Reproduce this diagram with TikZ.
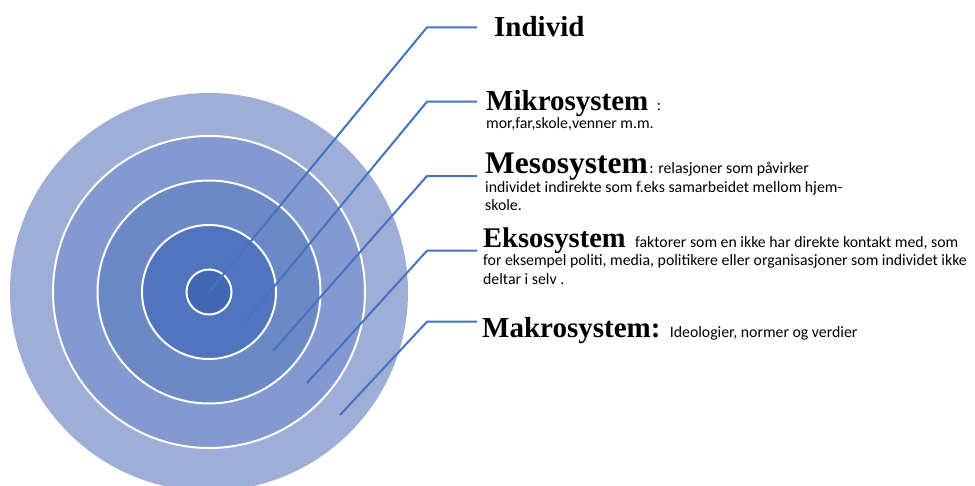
\documentclass[tikz,border=0pt]{standalone}
\usepackage{fontspec}
\setmainfont{Liberation Serif}
\newfontfamily\notefont{Carlito}

\definecolor{ringA}{HTML}{9FAED6}
\definecolor{ringB}{HTML}{8499CF}
\definecolor{ringC}{HTML}{6C89C6}
\definecolor{ringD}{HTML}{5075BE}
\definecolor{ringE}{HTML}{4068B0}
\definecolor{leaderblue}{HTML}{4472C4}

\begin{document}
\begin{tikzpicture}[x=1pt,y=-1pt,
  ring/.style={draw=white,line width=2pt},
  leader/.style={leaderblue,line width=2pt,line join=miter},
  sysname/.style={inner sep=0pt,anchor=base west,font=\bfseries\fontsize{#1}{#1}\selectfont},
  sysnote/.style={inner sep=0pt,anchor=base west,align=left,font=\notefont\fontsize{15.8}{18.5}\selectfont}]
\useasboundingbox (0,0) rectangle (975,485);
\clip (0,0) rectangle (975,485);
% the rings
\coordinate (core) at (209,292);
\fill[ringA] (core) circle (199);
\filldraw[ring,fill=ringB] (core) circle (156);
\filldraw[ring,fill=ringC] (core) circle (111.5);
\filldraw[ring,fill=ringD] (core) circle (67);
\filldraw[ring,fill=ringE] (core) circle (22.5);
% where the leaders start and bend
\coordinate (mikroStart) at (244,323);
\coordinate (mesoStart) at (273,351);
\coordinate (eksoStart) at (307,383);
\coordinate (makroStart) at (340,415);
\coordinate (individBend) at (427,27.3);
\coordinate (mikroBend) at (427,101.7);
\coordinate (mesoBend) at (427,176);
\coordinate (eksoBend) at (427,250.7);
\coordinate (makroBend) at (427,321.7);
\coordinate (individEnd) at (477,27.3);
\coordinate (mikroEnd) at (477,101.7);
\coordinate (mesoEnd) at (477,176);
\coordinate (eksoEnd) at (477,250.7);
\coordinate (makroEnd) at (477,321.7);
% labels (multi-line notes sit on their last line)
\node[sysname=29] (individ) at (494,36) {Individ};
\node[sysname=29] (mikro) at (486,110) {Mikrosystem};
\node[sysnote,xshift=8pt] (mikroColon) at (mikro.base east) {:};
\node[sysnote] (mikroNote) at (486,128.3) {mor,far,skole,venner m.m.};
\node[sysname=31.5] (meso) at (485,173) {Mesosystem};
\node[sysnote,xshift=1pt] (mesoNote) at (meso.base east) {: relasjoner som påvirker};
\node[sysnote] (mesoMore) at (485,210.5) {individet indirekte som f.eks samarbeidet mellom hjem-\\skole.};
\node[sysname=28.5] (ekso) at (483,247) {Eksosystem};
\node[sysnote,xshift=9pt] (eksoNote) at (ekso.base east) {faktorer som en ikke har direkte kontakt med, som};
\node[sysnote] (eksoMore) at (483,284) {for eksempel politi, media, politikere eller organisasjoner som individet ikke\\deltar i selv .};
\node[sysname=29] (makro) at (482,337) {Makrosystem:};
\node[sysnote,xshift=9pt] (makroNote) at (makro.base east) {Ideologier, normer og verdier};
% leaders
\draw[leader] (core) -- (individBend) -- (individEnd);
\draw[leader] (mikroStart) -- (mikroBend) -- (mikroEnd);
\draw[leader] (mesoStart) -- (mesoBend) -- (mesoEnd);
\draw[leader] (eksoStart) -- (eksoBend) -- (eksoEnd);
\draw[leader] (makroStart) -- (makroBend) -- (makroEnd);
\end{tikzpicture}
\end{document}
